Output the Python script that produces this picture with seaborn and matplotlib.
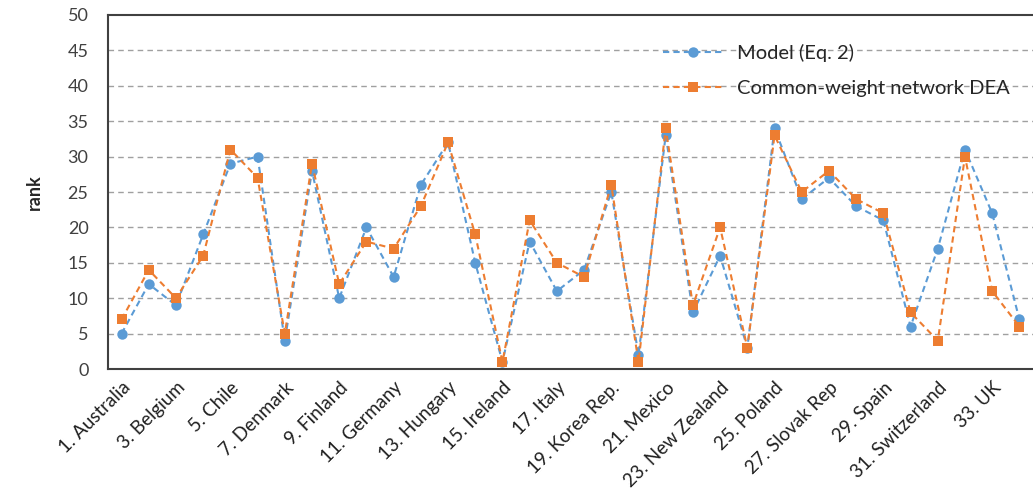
import pandas as pd
import numpy as np
import matplotlib.pyplot as plt
import seaborn as sns

countries = ["Australia", "Austria", "Belgium", "Canada", "Chile", "Czech Rep", "Denmark", "Estonia",
             "Finland", "France", "Germany", "Greece", "Hungary", "Iceland", "Ireland", "Israel",
             "Italy", "Japan", "Korea Rep.", "Luxembourg", "Mexico", "Netherlands", "New Zealand",
             "Norway", "Poland", "Portugal", "Slovak Rep", "Slovenia", "Spain", "Sweden",
             "Switzerland", "Turkey", "UK", "USA"]
model_rank = [5, 12, 9, 19, 29, 30, 4, 28, 10, 20, 13, 26, 32, 15, 1, 18, 11,
              14, 25, 2, 33, 8, 16, 3, 34, 24, 27, 23, 21, 6, 17, 31, 22, 7]
dea_rank = [7, 14, 10, 16, 31, 27, 5, 29, 12, 18, 17, 23, 32, 19, 1, 21, 15,
            13, 26, 1, 34, 9, 20, 3, 33, 25, 28, 24, 22, 8, 4, 30, 11, 6]
yticks = [0, 5, 10, 15, 20, 25, 30, 35, 40, 45, 50]

idx = np.arange(1, len(countries) + 1)
df = pd.DataFrame({"idx": idx, "model": model_rank, "dea": dea_rank})

sns.set_style("white")
plt.rcParams['font.family'] = ['Lato', 'DejaVu Sans']

fig = plt.figure(figsize=(10.33, 4.95), dpi=100)
ax = fig.add_axes([0.1045, 0.2545, 0.8955, 0.7152])

blue = "#5B9BD5"
orange = "#ED7D31"
sns.lineplot(data=df, x="idx", y="model", ax=ax, color=blue, linestyle=(0, (3, 2)),
             linewidth=1.5, marker="o", markersize=7.5, markeredgewidth=0,
             label="Model (Eq. 2)")
sns.lineplot(data=df, x="idx", y="dea", ax=ax, color=orange, linestyle=(0, (3, 2)),
             linewidth=1.5, marker="s", markersize=7.5, markeredgewidth=0,
             label="Common-weight network DEA")

ax.set_xlim(0.5, len(countries) + 0.5)
ax.set_ylim(0, 50)
ax.set_yticks(yticks)
ax.set_yticklabels([str(v) for v in yticks], fontsize=13, color="#404040")
ax.tick_params(axis="y", length=0, pad=14)
for v in yticks[1:-1]:
    ax.axhline(v, color="#a0a0a0", linestyle=(0, (4, 3)), linewidth=1, zorder=0)

odd = idx[::2]
ax.set_xticks(odd)
ax.set_xticklabels([f"{i}. {countries[i - 1]}" for i in odd], rotation=45, ha="right",
                   rotation_mode="anchor", fontsize=13.5, color="#202020")
ax.tick_params(axis="x", which="major", length=0, pad=7)
ax.set_xticks(np.arange(0.5, len(countries) + 1, 1), minor=True)
ax.tick_params(axis="x", which="minor", length=5, color="#606060", width=1, direction="out")

for s in ax.spines.values():
    s.set_color("#404040")
    s.set_linewidth(1.5)
ax.spines["right"].set_visible(False)

ax.set_xlabel("")
ax.set_ylabel("rank", fontsize=13, fontweight="bold", labelpad=18)

leg = ax.legend(loc="upper right", bbox_to_anchor=(0.995, 0.97), frameon=False, fontsize=14.5,
                handlelength=3.0, handletextpad=0.7, labelspacing=0.9)

fig.savefig("out.png", dpi=100)
